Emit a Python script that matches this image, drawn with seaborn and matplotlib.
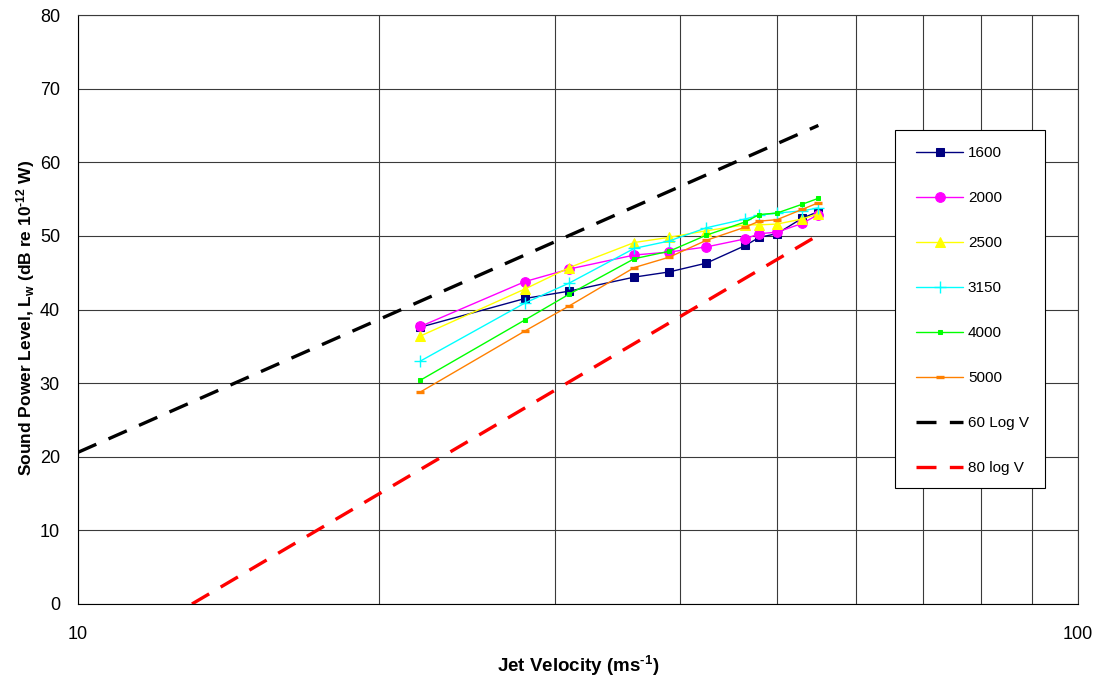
import matplotlib
matplotlib.use("Agg")
import matplotlib.pyplot as plt
import matplotlib.ticker as mticker
from matplotlib.patches import Rectangle
import seaborn as sns
import pandas as pd

# Jet velocity (m/s) at which each band level was measured
velocity = [22, 28, 31, 36, 39, 42.5, 46.5, 48, 50, 53, 55]

# One-third octave band sound power levels (dB re 1e-12 W)
band_1600 = [37.6, 41.5, 42.5, 44.4, 45.1, 46.3, 48.7, 49.8, 50.3, 52.4, 53.3]
band_2000 = [37.7, 43.8, 45.5, 47.4, 47.8, 48.5, 49.6, 50.3, 50.5, 51.7, 52.9]
band_2500 = [36.4, 42.8, 45.7, 49.1, 49.8, 50.7, 51.5, 51.5, 51.6, 52.3, 53.0]
band_3150 = [33.0, 40.9, 43.6, 48.3, 49.3, 51.1, 52.3, 52.8, 53.1, 53.4, 53.8]
band_4000 = [30.4, 38.6, 42.1, 46.9, 47.9, 50.1, 51.9, 52.9, 53.1, 54.3, 55.1]
band_5000 = [28.8, 37.1, 40.5, 45.7, 47.1, 49.4, 51.2, 52.0, 52.2, 53.6, 54.5]

# Reference scaling laws (end points of each straight line on the log axis)
law60_v = [10, 55]
law60_lw = [20.6, 65.0]
law80_v = [13.0, 55]
law80_lw = [0.0, 50.1]

band_labels = ["1600", "2000", "2500", "3150", "4000", "5000"]
band_values = [band_1600, band_2000, band_2500, band_3150, band_4000, band_5000]

sns.set_style("white")
plt.rcParams["font.family"] = ["Liberation Sans", "DejaVu Sans"]
plt.rcParams["mathtext.fontset"] = "custom"
plt.rcParams["mathtext.rm"] = "Liberation Sans:bold"
plt.rcParams["mathtext.default"] = "rm"
for key in ("text.color", "axes.labelcolor", "xtick.color", "ytick.color"):
    plt.rcParams[key] = "black"

fig = plt.figure(figsize=(11.04, 6.8), dpi=100)
ax = fig.add_axes([78 / 1104, 1 - 604 / 680, 1000 / 1104, 589 / 680])

styles = {
    "1600": dict(color="#000080", marker="s", markersize=6),
    "2000": dict(color="#FF00FF", marker="o", markersize=7),
    "2500": dict(color="#FFFF00", marker="^", markersize=7.5),
    "3150": dict(color="#00FFFF", marker="+", markersize=8, markeredgewidth=1.0),
    "4000": dict(color="#00FF00", marker="s", markersize=2.8),
    "5000": dict(color="#FF8000", marker="_", markersize=6, markeredgewidth=2.4),
}

for label, values in zip(band_labels, band_values):
    df = pd.DataFrame({"v": velocity, "lw": values})
    st = styles[label]
    sns.lineplot(data=df, x="v", y="lw", ax=ax, sort=False, label=label,
                 linewidth=1.0, markeredgecolor=st["color"],
                 markerfacecolor=st["color"], **st)

law60 = pd.DataFrame({"v": law60_v, "lw": law60_lw})
law80 = pd.DataFrame({"v": law80_v, "lw": law80_lw})
sns.lineplot(data=law60, x="v", y="lw", ax=ax, color="black", linewidth=2.4,
             label="60 Log V")
sns.lineplot(data=law80, x="v", y="lw", ax=ax, color="#FF0000", linewidth=2.4,
             label="80 log V")
for line in ax.lines[-2:]:
    line.set_dashes((6, 4))

ax.set_xscale("log")
ax.set_xlim(10, 100)
ax.set_ylim(0, 80)
ax.set_yticks(range(0, 81, 10))
ax.xaxis.set_major_locator(mticker.FixedLocator([10, 100]))
ax.xaxis.set_major_formatter(mticker.FixedFormatter(["10", "100"]))
ax.xaxis.set_minor_locator(mticker.FixedLocator([20, 30, 40, 50, 60, 70, 80, 90]))
ax.xaxis.set_minor_formatter(mticker.NullFormatter())

ax.grid(True, which="both", axis="x", color="#3a3a3a", linewidth=0.8)
ax.grid(True, which="major", axis="y", color="#3a3a3a", linewidth=0.8)
ax.set_axisbelow(True)
for sp in ax.spines.values():
    sp.set_color("#3a3a3a")
    sp.set_linewidth(0.8)
ax.spines["left"].set_color("black")
ax.spines["bottom"].set_color("black")

ax.tick_params(axis="both", which="major", direction="out", length=4,
               width=0.8, color="black", labelsize=13)
ax.tick_params(axis="y", which="major", pad=9)
ax.tick_params(axis="x", which="major", pad=12)
ax.tick_params(axis="x", which="minor", length=0)

ax.set_xlabel("Jet Velocity (ms$^{\u20101}$)", fontsize=13.5, fontweight="bold",
              labelpad=8)
ax.set_ylabel("Sound Power Level, L$_{w}$ (dB re 10$^{\u201012}$ W)",
              fontsize=12.5, fontweight="bold")
ax.yaxis.set_label_coords(-0.041, 0.486)

# Legend: white boxed panel on the right, entries stacked inside it
ax.add_patch(Rectangle((0.817, 0.197), 0.150, 0.608, transform=ax.transAxes,
                       facecolor="white", edgecolor="black", linewidth=0.8,
                       zorder=4, clip_on=False))
leg = ax.legend(loc="upper left", bbox_to_anchor=(0.838, 0.777),
                frameon=False, fontsize=11, labelspacing=2.03,
                handlelength=3.1, handletextpad=0.3, borderpad=0,
                borderaxespad=0, numpoints=1)
leg.set_zorder(5)

fig.savefig("out.png", dpi=100)
